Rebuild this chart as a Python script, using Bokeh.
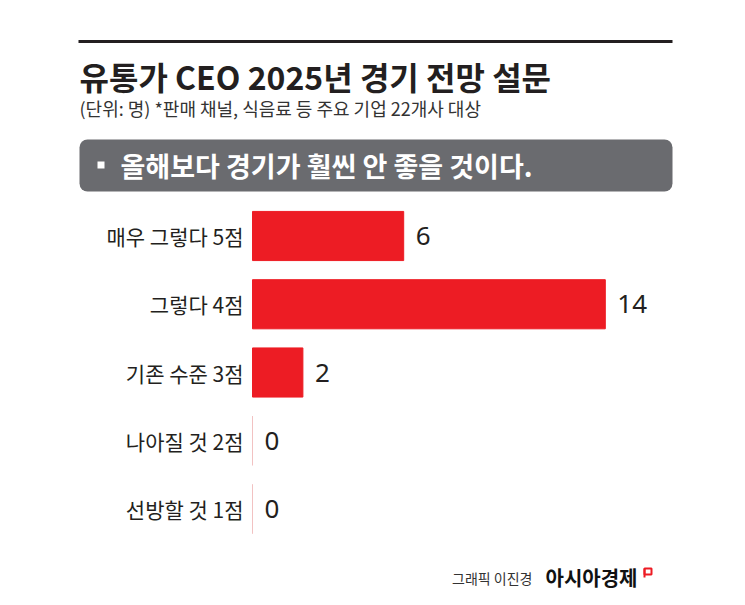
from bokeh.plotting import figure
from bokeh.models import Range1d, ColumnDataSource
from bokeh.core.properties import value
from bokeh.embed import file_html
from bokeh.resources import INLINE

# ---- data ----
categories = ["매우 그렇다 5점", "그렇다 4점", "기존 수준 3점", "나아질 것 2점", "선방할 것 1점"]
counts = [6, 14, 2, 0, 0]
title = "유통가 CEO 2025년 경기 전망 설문"
subtitle = "(단위: 명)  *판매 채널, 식음료 등 주요 기업 22개사 대상"
question = "올해보다 경기가 훨씬 안 좋을 것이다."
credit = "그래픽 이진경"
brand = "아시아경제"

# ---- layout constants ----
W, H = 745, 605
X0, PXU = 252, 25.2      # pixel of value 0, pixels per unit
Y0, ROW = 235.5, 68.25   # pixel centre of first row, row spacing

RED = "#ed1c24"
DARK = "#231f20"
KR = value("Noto Sans CJK KR")

p = figure(width=W, height=H, output_backend="svg", toolbar_location=None,
           x_range=Range1d(-X0 / PXU, (W - X0) / PXU),
           y_range=Range1d((H - Y0) / ROW, -Y0 / ROW),
           x_axis_location=None, y_axis_location=None,
           min_border=0, min_border_left=0, min_border_right=0,
           min_border_top=0, min_border_bottom=0)
p.extra_x_ranges = {"px": Range1d(0, W)}
p.extra_y_ranges = {"px": Range1d(H, 0)}
p.grid.visible = False
p.outline_line_color = None
p.background_fill_color = "white"
p.border_fill_color = "white"

rows = list(range(len(categories)))
src = ColumnDataSource(dict(
    cat=categories, val=counts, row=rows,
    lbl=[str(v) for v in counts],
    edge=[RED if v > 0 else "#f2c2c2" for v in counts],
))

# bars
p.hbar(y="row", left=0, right="val", height=0.72, fill_color=RED,
       line_color="edge", line_width=1, source=src)

# category labels
p.text(x=243, y="row", text="cat", x_range_name="px", source=src,
       text_align="right", text_baseline="middle", text_font=KR,
       text_font_size="21px", text_color=DARK)

# value labels
p.text(x="val", y="row", text="lbl", x_offset=12, source=src,
       text_align="left", text_baseline="middle", text_font=value("Noto Sans"),
       text_font_size="26px", text_color=DARK)

# ---- header ----
p.segment(x0=78, y0=41, x1=672, y1=41, line_width=3, line_color=DARK,
          x_range_name="px", y_range_name="px")
p.text(x=[79], y=[75], text=[title], x_range_name="px", y_range_name="px",
       text_align="left", text_baseline="middle", text_font=KR,
       text_font_style="bold", text_font_size="32px", text_color=DARK)
p.text(x=[79], y=[107], text=[subtitle], x_range_name="px", y_range_name="px",
       text_align="left", text_baseline="middle", text_font=KR,
       text_font_size="18px", text_color="#333333")

# question box
p.quad(left=79, right=672, top=139, bottom=191, border_radius=8,
       fill_color="#6a6b6f", line_color=None,
       x_range_name="px", y_range_name="px")
p.quad(left=97, right=104, top=161, bottom=168, fill_color="white",
       line_color=None, x_range_name="px", y_range_name="px")
p.text(x=[120], y=[165], text=[question], x_range_name="px", y_range_name="px",
       text_align="left", text_baseline="middle", text_font=KR,
       text_font_style="bold", text_font_size="27px", text_color="white")

# ---- footer ----
p.text(x=[532], y=[577], text=[credit], x_range_name="px", y_range_name="px",
       text_align="right", text_baseline="middle", text_font=KR,
       text_font_size="14px", text_color="#333333")
p.text(x=[545], y=[577], text=[brand], x_range_name="px", y_range_name="px",
       text_align="left", text_baseline="middle", text_font=KR,
       text_font_style="bold", text_font_size="20px", text_color="#111111")
p.quad(left=644, right=651, top=568, bottom=574, fill_color=None,
       line_color=RED, line_width=2, x_range_name="px", y_range_name="px")
p.segment(x0=644, y0=568, x1=644, y1=577, line_color=RED, line_width=2,
          x_range_name="px", y_range_name="px")

open("out.html", "w").write(file_html(p, INLINE))
